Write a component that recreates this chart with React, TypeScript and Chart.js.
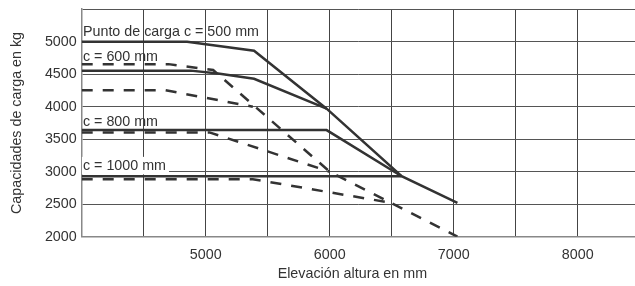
import React, { useEffect, useRef } from 'react';
import { Chart, registerables } from 'chart.js';

Chart.register(...registerables);

// Elevación (mm) / capacidad (kg) — solid curves
const solid500X = [4000, 4850, 5390, 5975, 6580, 7030];
const solid500Y = [5000, 5000, 4860, 3970, 2930, 2520];
const solid600X = [4000, 4880, 5100, 5390, 5975];
const solid600Y = [4555, 4555, 4510, 4430, 3970];
const solid800X = [4000, 5975, 6580];
const solid800Y = [3640, 3640, 2930];
const solid1000X = [4000, 6580];
const solid1000Y = [2930, 2930];

// dashed curves
const dashed500X = [4000, 4700, 5060, 6000, 7030];
const dashed500Y = [4655, 4655, 4565, 3000, 2000];
const dashed600X = [4000, 4670, 5380];
const dashed600Y = [4255, 4255, 4000];
const dashed800X = [4000, 5030, 6000];
const dashed800Y = [3605, 3605, 3000];
const dashed1000X = [4000, 5380, 6500];
const dashed1000Y = [2885, 2885, 2520];

// axis ticks / grid
const xGridValues = [4000, 4500, 5000, 5500, 6000, 6500, 7000, 7500, 8000];
const xTickLabels = [5000, 6000, 7000, 8000];
const yTickLabels = [2000, 2500, 3000, 3500, 4000, 4500, 5000];
const xMin = 4000;
const xMax = 8462;
const yMin = 2000;
const yMax = 5500;

const xTitle = 'Elevación altura en mm';
const yTitle = 'Capacidades de carga en kg';

// annotation texts (positions in data units)
const labelTexts = ['Punto de carga c = 500 mm', 'c = 600 mm', 'c = 800 mm', 'c = 1000 mm'];
const labelX = [4010, 4010, 4010, 4010];
const labelY = [5145, 4765, 3770, 3090];
const labelBoxed = [false, false, false, true];

const FONT_FAMILY = '"Liberation Sans", Arial, sans-serif';
const FONT_SIZE = 14.3;
const TEXT_COLOR = '#333';

function pts(xs: number[], ys: number[]) {
  return xs.map((x, i) => ({ x, y: ys[i] }));
}

const labelPlugin = {
  id: 'curveLabels',
  beforeDatasetsDraw(chart: any) {
    const { ctx, scales } = chart;
    ctx.save();
    ctx.font = `${FONT_SIZE}px ${FONT_FAMILY}`;
    ctx.textBaseline = 'middle';
    ctx.textAlign = 'left';
    labelTexts.forEach((t, i) => {
      const px = scales.x.getPixelForValue(labelX[i]);
      const py = scales.y.getPixelForValue(labelY[i]);
      if (labelBoxed[i]) {
        const w = ctx.measureText(t).width;
        ctx.fillStyle = '#fff';
        ctx.fillRect(px - 1, py - 9, w + 4, 17.5);
      }
      ctx.fillStyle = TEXT_COLOR;
      ctx.fillText(t, px, py);
    });
    ctx.restore();
  },
  afterDraw(chart: any) {
    const { ctx, chartArea, height } = chart;
    ctx.save();
    ctx.font = `${FONT_SIZE}px ${FONT_FAMILY}`;
    ctx.fillStyle = TEXT_COLOR;
    ctx.textAlign = 'center';
    ctx.textBaseline = 'middle';
    const cx = (chartArea.left + chartArea.right) / 2 - 6;
    ctx.fillText(xTitle, cx, height - 11.5);
    ctx.restore();
  },
};

export default function App() {
  const ref = useRef<HTMLCanvasElement>(null);

  useEffect(() => {
    const solid = (data: any) => ({
      data,
      borderColor: '#333',
      borderWidth: 2.5,
      pointRadius: 0,
      fill: false,
      tension: 0,
    });
    const dashed = (data: any) => ({
      data,
      borderColor: '#333',
      borderWidth: 2.5,
      borderDash: [11, 10],
      pointRadius: 0,
      fill: false,
      tension: 0,
    });
    const font = { family: FONT_FAMILY, size: FONT_SIZE };
    const chart = new Chart(ref.current as HTMLCanvasElement, {
      type: 'line',
      data: {
        datasets: [
          dashed(pts(dashed500X, dashed500Y)),
          dashed(pts(dashed600X, dashed600Y)),
          dashed(pts(dashed800X, dashed800Y)),
          dashed(pts(dashed1000X, dashed1000Y)),
          solid(pts(solid500X, solid500Y)),
          solid(pts(solid600X, solid600Y)),
          solid(pts(solid800X, solid800Y)),
          solid(pts(solid1000X, solid1000Y)),
        ] as any,
      },
      options: {
        responsive: false,
        animation: false,
        events: [],
        layout: { padding: { top: 9.2, left: 0, right: 0, bottom: 0 } },
        plugins: { legend: { display: false }, tooltip: { enabled: false } },
        scales: {
          x: {
            type: 'linear',
            min: xMin,
            max: xMax,
            afterBuildTicks: (s: any) => {
              s.ticks = xGridValues.map((value) => ({ value }));
            },
            afterFit: (s: any) => {
              s.height = 49.3;
            },
            ticks: {
              autoSkip: false,
              maxRotation: 0,
              padding: 0,
              color: TEXT_COLOR,
              font: { ...font, lineHeight: 2.62 },
              callback: (v: any) => (xTickLabels.includes(Number(v)) ? String(v) : ''),
            },
            grid: { color: '#444', lineWidth: 1, drawTicks: false },
            border: { color: '#888', width: 1.5 },
            title: { display: false },
          },
          y: {
            type: 'linear',
            min: yMin,
            max: yMax,
            afterFit: (s: any) => {
              s.width = 81.7;
            },
            ticks: {
              stepSize: 500,
              autoSkip: false,
              padding: 5,
              color: TEXT_COLOR,
              font: { ...font, lineHeight: 0.5 },
              callback: (v: any) => (yTickLabels.includes(Number(v)) ? String(v) : ''),
            },
            grid: { color: '#555', lineWidth: 1, drawTicks: false },
            border: { color: '#888', width: 1.5 },
            title: {
              display: true,
              text: yTitle,
              color: TEXT_COLOR,
              font,
              padding: { top: 8, bottom: 0 },
            },
          },
        },
      } as any,
      plugins: [labelPlugin],
    });
    return () => chart.destroy();
  }, []);

  return (
    <div style={{ position: 'fixed', left: 0, top: 0, width: 635, height: 286, background: '#fff' }}>
      <canvas ref={ref} width={635} height={286} style={{ display: 'block' }} />
    </div>
  );
}
